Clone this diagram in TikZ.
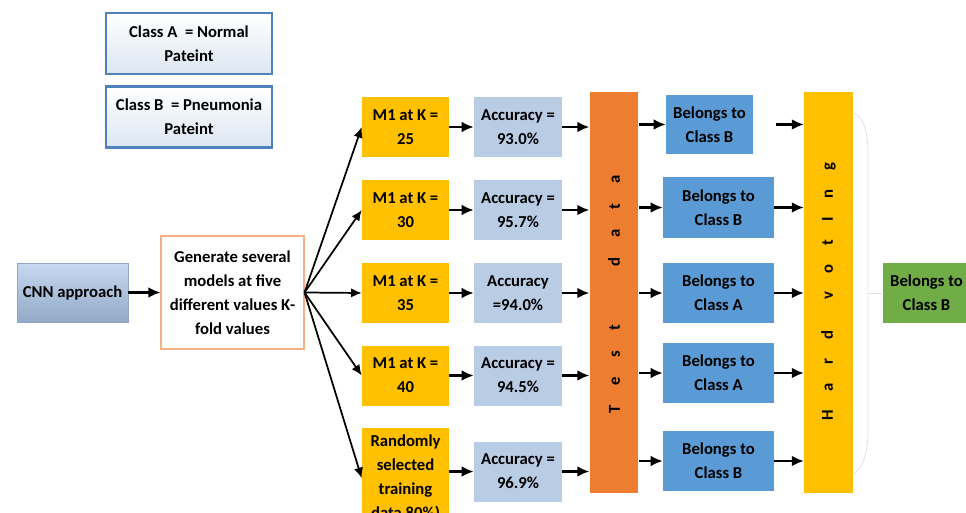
\documentclass[tikz,border=0pt]{standalone}
\usepackage{fontspec}
\setmainfont{Carlito}
\usetikzlibrary{arrows.meta}

\definecolor{kgold}{HTML}{FFC000}
\definecolor{accblue}{HTML}{B8CCE4}
\definecolor{testorange}{HTML}{ED7D31}
\definecolor{belongblue}{HTML}{5B9BD5}
\definecolor{finalgreen}{HTML}{70AD47}
\definecolor{legendline}{HTML}{4F81BD}
\definecolor{legendfill}{HTML}{DCE6F2}
\definecolor{genline}{HTML}{F4B183}
\definecolor{cnntop}{HTML}{C6D9F1}
\definecolor{cnnbot}{HTML}{93A9C6}
\definecolor{cnnline}{HTML}{8EA4C2}

\tikzset{
  box/.style={align=center, inner sep=2pt, font=\bfseries\fontsize{12.5}{18}\selectfont},
  legendbox/.style={box, draw=legendline, line width=1.9pt, top color=white,
    bottom color=legendfill, minimum width=124.5pt, minimum height=45.75pt},
  cnnbox/.style={box, draw=cnnline, line width=0.6pt, top color=cnntop,
    bottom color=cnnbot, minimum width=83.25pt, minimum height=44.25pt},
  genbox/.style={box, draw=genline, line width=0.8pt, fill=white,
    minimum width=107.25pt, minimum height=84.75pt},
  kbox/.style={box, fill=kgold, minimum width=65.25pt, minimum height=45pt},
  accbox/.style={box, fill=accblue, minimum width=66pt, minimum height=45pt},
  classbox/.style={box, fill=belongblue, minimum width=83.25pt, minimum height=45pt},
  bar/.style={minimum width=36.5pt, minimum height=300.75pt},
  barlabel/.style={rotate=90, inner sep=0pt, font=\bfseries\fontsize{12.5}{14}\selectfont},
  flow/.style={-{Latex[length=9pt,width=8pt]}, line width=1.7pt},
  fan/.style={-{Latex[length=8pt,width=7pt]}, line width=1.3pt},
  brace line/.style={draw=black!12, line width=0.6pt}
}

\begin{document}
\begin{tikzpicture}[x=0.75pt, y=-0.75pt]
  \clip (0,0) rectangle (966,513);
  % legend
  \node[legendbox] (clsA) at (189,43.5) {Class A\ \ = Normal\\Pateint};
  \node[legendbox] (clsB) at (189,117) {Class B\ \ = Pneumonia\\Pateint};
  % input
  \node[cnnbox] (cnn) at (72.5,292.5) {CNN approach};
  \node[genbox] (gen) at (232.5,292.5)
    {Generate several\\models at five\\different values K-\\fold values};
  % models
  \node[kbox] (k25) at (405.5,127) {M1 at K =\\25};
  \node[kbox] (k30) at (405.5,210) {M1 at K =\\30};
  \node[kbox] (k35) at (405.5,293) {M1 at K =\\35};
  \node[kbox] (k40) at (405.5,375.5) {M1 at K =\\40};
  \node[kbox, anchor=north, inner ysep=1pt, minimum height=75pt] (rand) at (405.5,428)
    {Randomly\\selected\\training\\data 80\%)};
  % accuracies
  \node[accbox] (a25) at (518,127) {Accuracy =\\93.0\%};
  \node[accbox] (a30) at (518,210) {Accuracy =\\95.7\%};
  \node[accbox] (a35) at (518,293) {Accuracy\\=94.0\%};
  \node[accbox] (a40) at (518,375.5) {Accuracy =\\94.5\%};
  \node[accbox] (arand) at (518,471.5) {Accuracy =\\96.9\%};
  % test data
  \node[bar, fill=testorange] (test) at (614,292.5) {};
  \node[barlabel] (testlbl) at (614,294.5)
    {T\hspace{15pt}e\hspace{15pt}s\hspace{15pt}t\hspace{44pt}d\hspace{15pt}a\hspace{15pt}t\hspace{15pt}a};
  % predictions
  \node[box, fill=belongblue, minimum width=65.25pt, minimum height=44.25pt] (b1) at (709.5,124.5)
    {Belongs to\\Class B};
  \node[classbox] (b2) at (718.5,207.5) {Belongs to\\Class B};
  \node[classbox] (b3) at (718.5,293) {Belongs to\\Class A};
  \node[classbox] (b4) at (718.5,373) {Belongs to\\Class A};
  \node[classbox] (b5) at (718.5,461) {Belongs to\\Class B};
  % hard voting
  \node[bar, fill=kgold] (hard) at (828.5,292.5) {};
  \node[barlabel] (hardlbl) at (828.5,291.5)
    {H\hspace{14pt}a\hspace{14pt}r\hspace{14pt}d\hspace{23pt}v\hspace{14pt}o\hspace{14pt}t\hspace{14pt}I\hspace{14pt}n\hspace{14pt}g};
  \node[box, fill=finalgreen, minimum width=65.25pt, minimum height=45pt] (final) at (926.5,293)
    {Belongs to\\Class B};

  \draw[brace line] (854,113) .. controls (865,118) and (868,135) .. (868,155)
    -- (868,430) .. controls (868,455) and (862,468) .. (854,474);
  \draw[brace line] (868,293) -- (882,293);

  \draw[flow] (cnn) -- (gen);
  \foreach \m in {k25,k30,k35,k40,rand}
    \draw[fan] (gen.east) -- (\m.west);
  \draw[flow] (k25) -- (a25);
  \draw[flow] (k30) -- (a30);
  \draw[flow] (k35) -- (a35);
  \draw[flow] (k40) -- (a40);
  \draw[flow] (arand.west -| rand.east) -- (arand.west);
  \foreach \a in {a25,a30,a35,a40,arand}
    \draw[flow] (\a.east) -- (\a.east -| test.west);
  \foreach \b in {b1,b2,b3,b4,b5}
    \draw[flow] (\b.west -| test.east) -- (\b.west);
  \draw[flow] ([xshift=17pt]b1.east) -- (b1.east -| hard.west);
  \foreach \b in {b2,b3,b4,b5}
    \draw[flow] (\b.east) -- (\b.east -| hard.west);
\end{tikzpicture}
\end{document}
